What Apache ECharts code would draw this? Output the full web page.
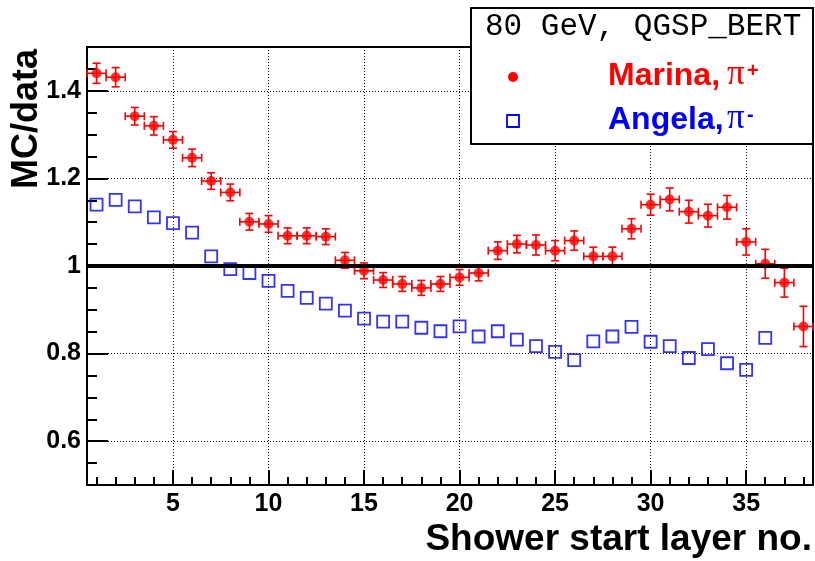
<!DOCTYPE html>
<html>
<head>
<meta charset="utf-8">
<title>MC/data vs shower start layer</title>
<script src="https://cdn.jsdelivr.net/npm/echarts@6/dist/echarts.min.js"></script>
<style>
  html, body { margin: 0; padding: 0; background: #fff; }
  #chart { width: 815px; height: 561px; }
</style>
</head>
<body>
<div id="chart"></div>
<script>
// Shower start layer (x) for each series
const redLayers = [1,2,3,4,5,6,7,8,9,10,11,12,13,14,15,16,17,18,19,20,21,22,23,24,25,26,27,28,29,30,31,32,33,34,35,36,37,38];
const blueLayers = [1,2,3,4,5,6,7,8,9,10,11,12,13,14,15,16,17,18,19,20,21,22,23,24,25,26,27,28,29,30,31,32,33,34,35,36];

// Marina, pi+ : MC/data ratio and its statistical error
const redVals = [1.440,1.431,1.342,1.320,1.288,1.247,1.194,1.168,1.101,1.096,1.069,1.069,1.067,1.013,0.989,0.968,0.959,0.950,0.959,0.974,0.984,1.035,1.050,1.048,1.035,1.058,1.022,1.022,1.085,1.140,1.152,1.124,1.115,1.134,1.055,1.005,0.962,0.862];
const redErr = [0.023,0.022,0.020,0.021,0.019,0.020,0.019,0.019,0.019,0.019,0.018,0.018,0.018,0.018,0.018,0.017,0.017,0.017,0.017,0.018,0.018,0.020,0.020,0.023,0.023,0.022,0.021,0.021,0.023,0.024,0.026,0.026,0.026,0.027,0.030,0.033,0.033,0.046];

// Angela, pi- : MC/data ratio
const blueVals = [1.140,1.151,1.136,1.111,1.098,1.076,1.022,0.993,0.984,0.966,0.943,0.927,0.914,0.898,0.880,0.873,0.873,0.859,0.851,0.862,0.839,0.851,0.832,0.817,0.804,0.785,0.828,0.839,0.861,0.827,0.817,0.790,0.810,0.778,0.763,0.836];

// Horizontal half-width of each bin
const binHalf = 0.5;

// Axis ticks
const xMajorTicks = [5,10,15,20,25,30,35];
const xMinorTicks = [1,2,3,4,5,6,7,8,9,10,11,12,13,14,15,16,17,18,19,20,21,22,23,24,25,26,27,28,29,30,31,32,33,34,35,36,37,38];
const yMajorTicks = [0.6,0.8,1.0,1.2,1.4];
const yMinorTicks = [0.55,0.6,0.65,0.7,0.75,0.8,0.85,0.9,0.95,1.0,1.05,1.1,1.15,1.2,1.25,1.3,1.35,1.4,1.45];
const reference = 1.0;

const xRange = [0.5, 38.5];
const yRange = [0.5, 1.5];

const SANS = 'Liberation Sans, Arial, Helvetica, sans-serif';
const SERIF = 'Liberation Serif, Times New Roman, serif';
const MONO = 'Liberation Mono, Courier New, monospace';
const RED = '#ff0000';
const BLUE = '#0000ff';

const redData = redLayers.map((x, i) => [x, redVals[i], redErr[i]]);
const blueData = blueLayers.map((x, i) => [x, blueVals[i]]);

const chart = echarts.init(document.getElementById('chart'), null, { renderer: 'canvas' });

const labelStyle = { color: '#000', fontFamily: SANS, fontWeight: 'bold', fontSize: 25 };
const dotted = { color: '#000', width: 1, type: [1, 2] };

// error bars with end caps, drawn in data coordinates
function renderErr(params, api) {
  const x = api.value(0), y = api.value(1), e = api.value(2);
  const l = api.coord([x - binHalf, y]);
  const r = api.coord([x + binHalf, y]);
  const t = api.coord([x, y + e]);
  const b = api.coord([x, y - e]);
  const cap = 4;
  const st = { stroke: RED, lineWidth: 1.6 };
  const line = (x1, y1, x2, y2) => ({ type: 'line', shape: { x1, y1, x2, y2 }, style: st });
  return {
    type: 'group',
    children: [
      line(l[0], l[1], r[0], r[1]),
      line(l[0], l[1] - cap, l[0], l[1] + cap),
      line(r[0], r[1] - cap, r[0], r[1] + cap),
      line(t[0], t[1], b[0], b[1]),
      line(t[0] - cap, t[1], t[0] + cap, t[1]),
      line(b[0] - cap, b[1], b[0] + cap, b[1])
    ]
  };
}

const option = {
  backgroundColor: '#fff',
  animation: false,
  grid: {
    left: 87, top: 47, right: 2, bottom: 76,
    show: true, borderColor: '#000', borderWidth: 2, backgroundColor: 'transparent'
  },
  xAxis: [
    {
      type: 'value', min: xRange[0], max: xRange[1], position: 'bottom',
      axisLine: { show: true, lineStyle: { color: '#000', width: 2 } },
      axisTick: { show: true, inside: true, length: 15, customValues: xMajorTicks, lineStyle: { color: '#000', width: 2 } },
      axisLabel: Object.assign({ customValues: xMajorTicks, margin: 7 }, labelStyle),
      splitLine: { show: true, lineStyle: dotted }
    },
    {
      type: 'value', min: xRange[0], max: xRange[1], position: 'bottom',
      axisLine: { show: false },
      axisTick: { show: true, inside: true, length: 8, customValues: xMinorTicks, lineStyle: { color: '#000', width: 2 } },
      axisLabel: { show: false },
      splitLine: { show: false }
    }
  ],
  yAxis: [
    {
      type: 'value', min: yRange[0], max: yRange[1], position: 'left',
      axisLine: { show: true, lineStyle: { color: '#000', width: 2 } },
      axisTick: { show: true, inside: true, length: 21, customValues: yMajorTicks, lineStyle: { color: '#000', width: 2 } },
      axisLabel: Object.assign({ customValues: yMajorTicks, margin: 6 }, labelStyle),
      splitLine: { show: true, lineStyle: dotted }
    },
    {
      type: 'value', min: yRange[0], max: yRange[1], position: 'left',
      axisLine: { show: false },
      axisTick: { show: true, inside: true, length: 10, customValues: yMinorTicks, lineStyle: { color: '#000', width: 2 } },
      axisLabel: { show: false },
      splitLine: { show: false }
    }
  ],
  series: [
    {
      name: 'Marina err', type: 'custom', xAxisIndex: 0, yAxisIndex: 0,
      renderItem: renderErr, data: redData, encode: { x: 0, y: 1 }, z: 3, silent: true
    },
    {
      name: 'Angela', type: 'scatter', xAxisIndex: 0, yAxisIndex: 0,
      data: blueData, symbol: 'rect', symbolSize: 12,
      itemStyle: { color: 'rgba(0,0,0,0)', borderColor: BLUE, borderWidth: 1.8 }, z: 3,
      markLine: {
        silent: true, symbol: 'none', label: { show: false },
        lineStyle: { color: '#000', width: 4, type: 'solid' },
        data: [{ yAxis: reference }]
      }
    },
    {
      name: 'Marina', type: 'scatter', xAxisIndex: 0, yAxisIndex: 0,
      data: redData, symbol: 'circle', symbolSize: 10,
      itemStyle: { color: RED }, z: 4
    }
  ],
  graphic: [
    // axis titles
    {
      type: 'text', x: 27, y: 119, rotation: Math.PI / 2, z: 50,
      style: { text: 'MC/data', fill: '#000', font: 'bold 36px ' + SANS, textAlign: 'center', textVerticalAlign: 'middle' }
    },
    {
      type: 'text', x: 812, y: 540, z: 50,
      style: { text: 'Shower start layer no.', fill: '#000', font: 'bold 37px ' + SANS, textAlign: 'right', textVerticalAlign: 'middle' }
    },
    // legend box
    {
      type: 'rect', z: 100, shape: { x: 471, y: 8, width: 342, height: 136 },
      style: { fill: '#fff', stroke: '#000', lineWidth: 2 }
    },
    {
      type: 'text', x: 485, y: 27, z: 101,
      style: { text: '80 GeV, QGSP_BERT', fill: '#000', font: '31px ' + MONO, textVerticalAlign: 'middle' }
    },
    { type: 'circle', z: 101, shape: { cx: 513, cy: 77, r: 5 }, style: { fill: RED } },
    {
      type: 'rect', z: 101, shape: { x: 507, y: 115, width: 12, height: 12 },
      style: { fill: 'none', stroke: BLUE, lineWidth: 1.8 }
    },
    { type: 'text', x: 608, y: 76, z: 101, style: { text: 'Marina,', fill: RED, font: 'bold 32px ' + SANS, textVerticalAlign: 'middle' } },
    { type: 'text', x: 727, y: 75, z: 101, style: { text: 'π', fill: RED, font: '35px ' + SERIF, textVerticalAlign: 'middle' } },
    { type: 'text', x: 747, y: 71, z: 101, style: { text: '+', fill: RED, font: 'bold 20px ' + SANS, textVerticalAlign: 'middle' } },
    { type: 'text', x: 608, y: 120, z: 101, style: { text: 'Angela,', fill: BLUE, font: 'bold 32px ' + SANS, textVerticalAlign: 'middle' } },
    { type: 'text', x: 727, y: 119, z: 101, style: { text: 'π', fill: BLUE, font: '35px ' + SERIF, textVerticalAlign: 'middle' } },
    { type: 'text', x: 747, y: 115, z: 101, style: { text: '-', fill: BLUE, font: 'bold 20px ' + SANS, textVerticalAlign: 'middle' } }
  ]
};

chart.setOption(option);
</script>
</body>
</html>
